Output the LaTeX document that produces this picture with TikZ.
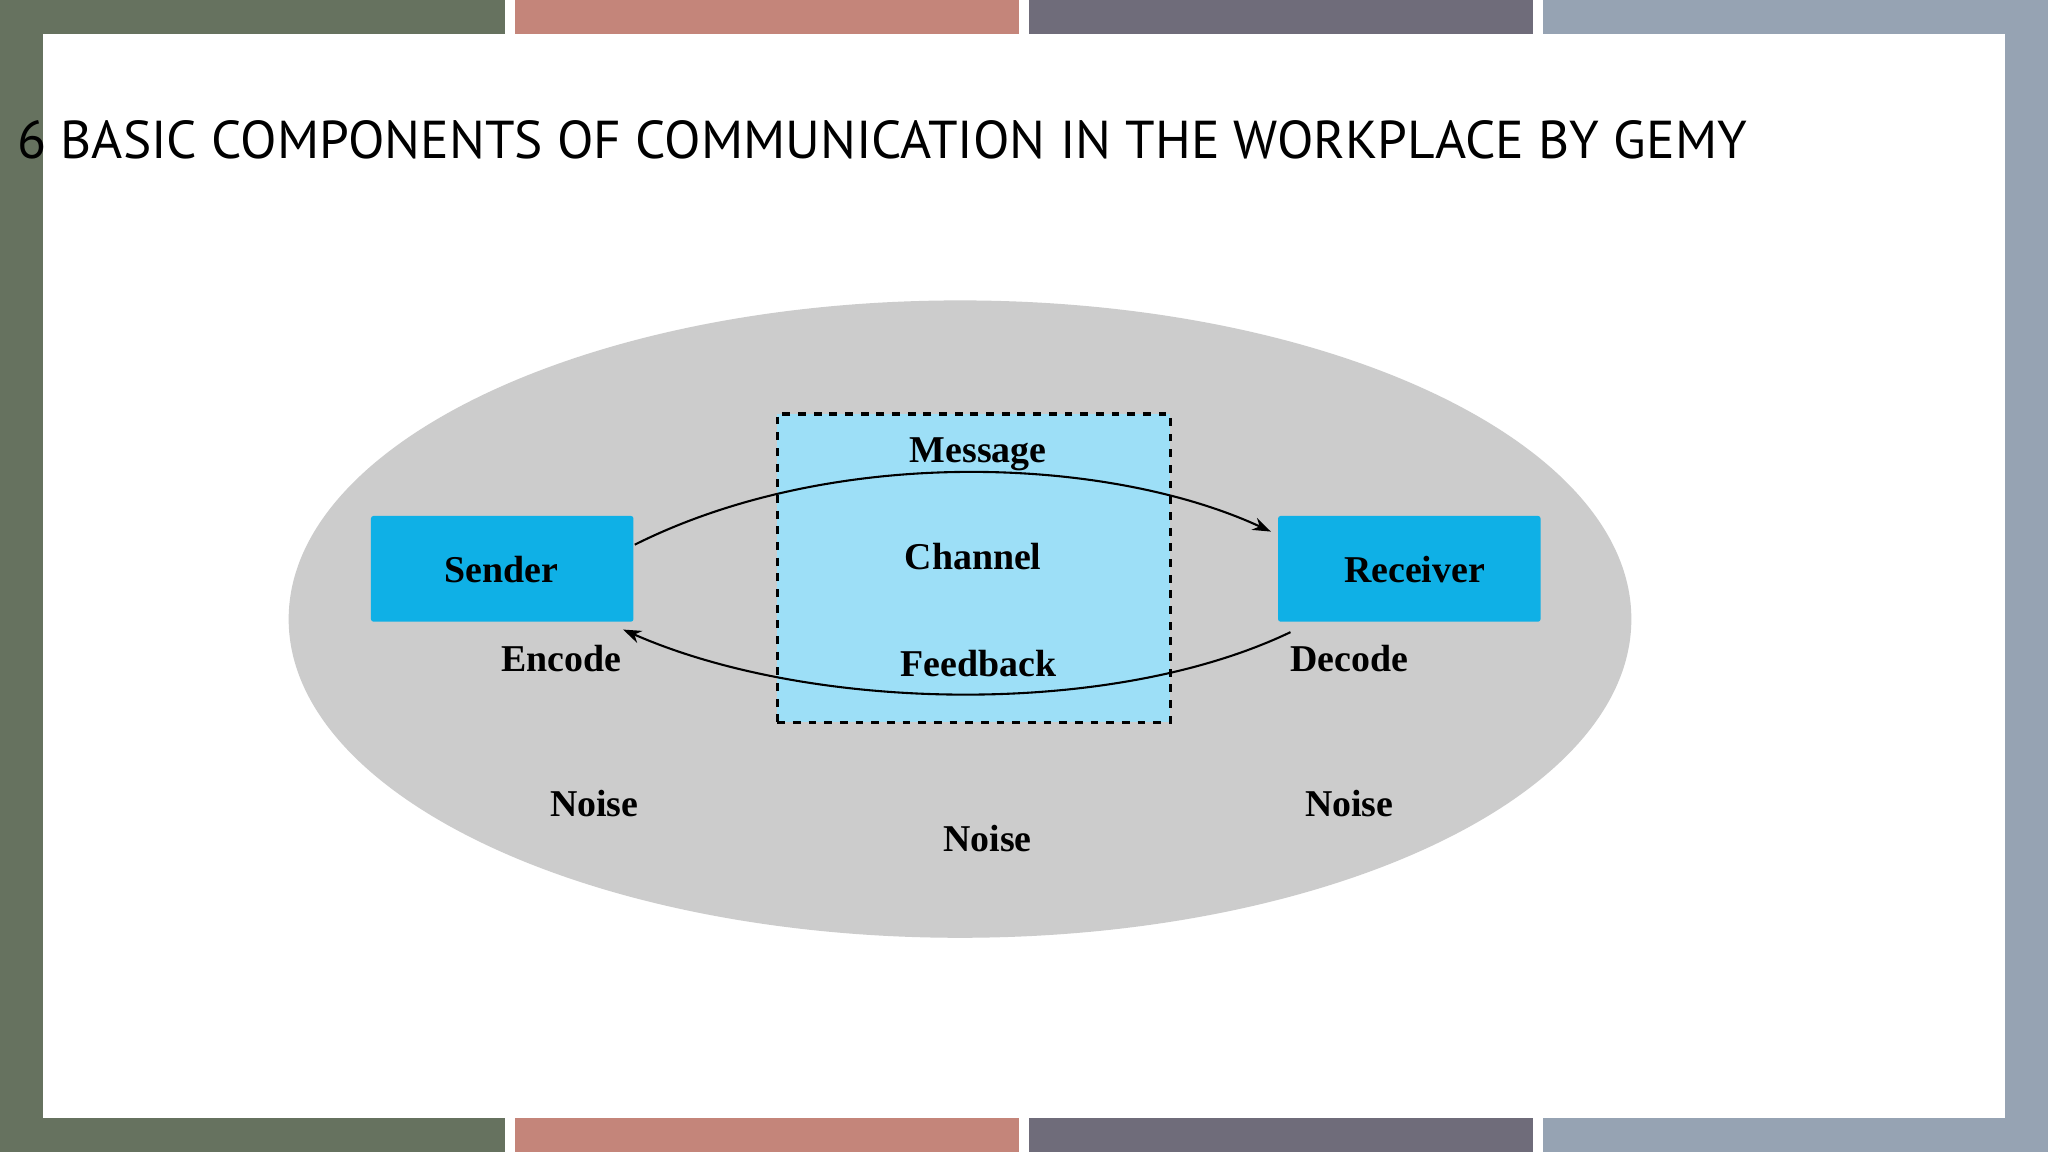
\documentclass[tikz,border=0pt]{standalone}
\usepackage{fontspec}
\setmainfont{Liberation Serif}
\newfontfamily\titlefont{PT Sans}
\usetikzlibrary{arrows.meta}
\definecolor{barA}{HTML}{66725F}
\definecolor{barB}{HTML}{C4857A}
\definecolor{barC}{HTML}{6F6C7A}
\definecolor{barD}{HTML}{96A3B3}
\definecolor{ell}{HTML}{CCCCCC}
\definecolor{chan}{HTML}{9DDFF7}
\definecolor{box}{HTML}{0FB0E6}
\begin{document}
\begin{tikzpicture}[x=0.5pt,y=-0.5pt,
  lbl/.style={font=\fontsize{14.5}{16}\selectfont\bfseries,text=black,inner sep=0pt},
  party/.style={fill=box,minimum width=100.5pt,minimum height=40.5pt,inner sep=0pt,rounded corners=1pt},
  flow/.style={line width=0.8pt,-{Stealth[length=7pt,width=5pt]}}]
\useasboundingbox (0,0) rectangle (1568,882);
\fill[barA] (0,0) rectangle (387,26);
\fill[barB] (394,0) rectangle (780,26);
\fill[barC] (788,0) rectangle (1174,26);
\fill[barD] (1181,0) rectangle (1568,26);
\fill[barA] (0,856) rectangle (387,882);
\fill[barB] (394,856) rectangle (780,882);
\fill[barC] (788,856) rectangle (1174,882);
\fill[barD] (1181,856) rectangle (1568,882);
\fill[barA] (0,0) rectangle (33,882);
\fill[barD] (1535,0) rectangle (1568,882);
\fill[white] (33,26) rectangle (1535,856);
\node[anchor=west,inner sep=0pt] (title) at (13,107) {\resizebox{662pt}{!}{\titlefont\fontsize{20}{22}\selectfont\addfontfeature{}6 BASIC COMPONENTS OF COMMUNICATION IN THE WORKPLACE BY GEMY}};
\fill[ell] (735,474) ellipse [x radius=514, y radius=244];
\node[draw,dashed,line width=1.2pt,fill=chan,minimum width=150.5pt,minimum height=118pt,inner sep=0pt] (channelbox) at (745.5,435) {};
\node[party] (sender) at (384.5,435.5) {};
\node[party] (receiver) at (1079,435.5) {};
\node[lbl] (sendertxt) at (384,436) {Sender};
\node[lbl] (receivertxt) at (1083,436) {Receiver};
\node[lbl] (message) at (749,348) {Message};
\node[lbl] (channel) at (745,426) {Channel};
\node[lbl] (feedback) at (749,508) {Feedback};
\node[lbl] (encode) at (430,504) {Encode};
\node[lbl] (decode) at (1033,504) {Decode};
\node[lbl] (noise1) at (455,615) {Noise};
\node[lbl] (noise2) at (756,642) {Noise};
\node[lbl] (noise3) at (1033,615) {Noise};
\coordinate (m1) at (486,417);
\coordinate (m2) at (973,407);
\coordinate (f1) at (988,484);
\coordinate (f2) at (477,482);
\draw[flow] (m1) .. controls (640,340) and (850,350) .. (m2);
\draw[flow] (f1) .. controls (850,550) and (620,545) .. (f2);
\end{tikzpicture}
\end{document}
